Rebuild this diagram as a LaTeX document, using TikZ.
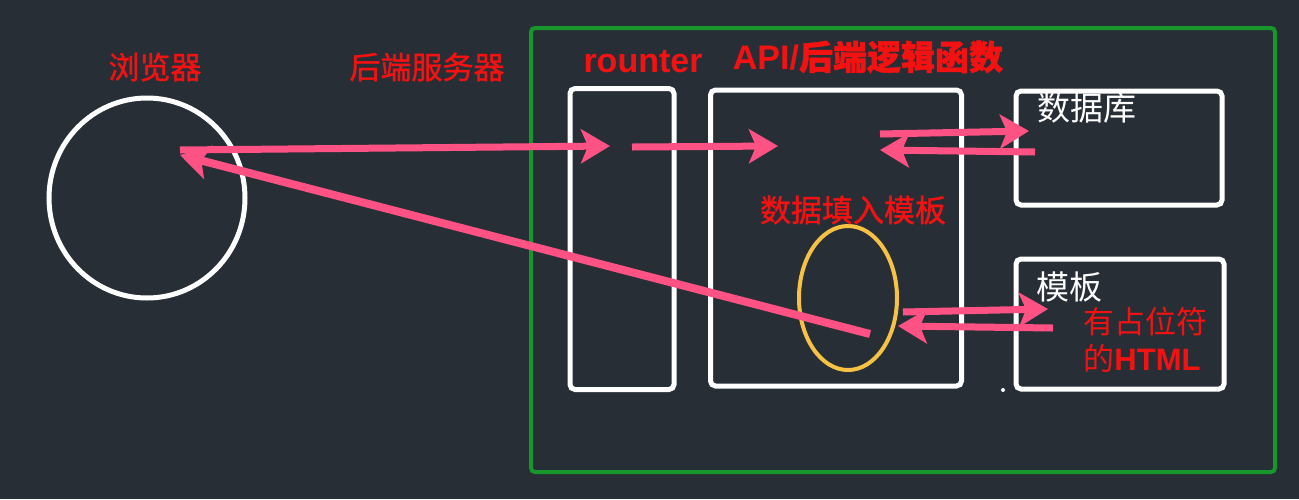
\documentclass[tikz,border=0pt]{standalone}
\usepackage{fontspec}
\setmainfont{Liberation Sans}
\newfontfamily\cjk{Noto Sans CJK SC}
\newfontfamily\cjkb[FakeBold=1.2]{Noto Sans CJK SC}
\usetikzlibrary{arrows.meta,shapes.geometric}
\definecolor{bg}{RGB}{40,46,54}
\definecolor{arrowpink}{RGB}{255,82,132}
\definecolor{labelred}{RGB}{242,18,18}
\definecolor{framegreen}{RGB}{24,150,44}
\definecolor{ellyellow}{RGB}{247,194,68}
\begin{document}
\begin{tikzpicture}[x=1pt,y=-1pt,
  box/.style={draw=white, line width=5pt, rounded corners=5pt, inner sep=0pt},
  pa/.style={draw=arrowpink, line width=7pt, -{Stealth[length=29pt,width=34pt,inset=7pt]}},
  redlbl/.style={text=labelred, inner sep=0pt, font=\cjkb\fontsize{31}{33}\selectfont},
  whitelbl/.style={text=white, inner sep=0pt, font=\cjk\fontsize{33}{35}\selectfont}]
\fill[bg] (0,0) rectangle (1299,499);
\useasboundingbox (0,0) rectangle (1299,499);

% frame
\node[draw=framegreen, line width=4pt, rounded corners=4pt, minimum width=744pt, minimum height=444pt, inner sep=0pt] (server) at (903,250) {};

% browser circle
\node[ellipse, draw=white, line width=5pt, minimum width=196pt, minimum height=200pt, inner sep=0pt] (browser) at (147,198) {};

% boxes
\node[box, minimum width=104pt, minimum height=301pt] (router) at (622,239) {};
\node[box, minimum width=251pt, minimum height=296pt] (api) at (836,238) {};
\node[box, minimum width=206pt, minimum height=114pt] (db) at (1119,148) {};
\node[box, minimum width=208pt, minimum height=130pt] (tpl) at (1120,324) {};

% yellow ellipse
\node[ellipse, draw=ellyellow, line width=4pt, minimum width=98pt, minimum height=144pt, inner sep=0pt] (fill) at (848,298) {};

% dot
\fill[white] (1003,390) circle (2pt);

% labels
\node[redlbl] (lbrowser) at (155,67) {浏览器};
\node[redlbl] (lserver) at (427,67) {后端服务器};
\node[text=labelred, inner sep=0pt, font=\bfseries\fontsize{34}{36}\selectfont] (lrouter) at (643,62) {rounter};
\node[text=labelred, inner sep=0pt, font=\fontsize{34}{36}\selectfont] (lapi) at (868,57) {\bfseries API/{\cjkb 后端逻辑函数}};
\node[redlbl] (lfill) at (853,210) {数据填入模板};
\node[whitelbl] (ldb) at (1087,108) {数据库};
\node[whitelbl] (ltpl) at (1069,287) {模板};
\node[redlbl, font=\cjk\fontsize{31}{33}\selectfont] (lhtml1) at (1145,322) {有占位符};
\node[text=labelred, inner sep=0pt, font=\fontsize{31}{33}\selectfont] (lhtml2) at (1142,358) {{\cjk 的}\bfseries HTML};

% arrow end points
\coordinate (b1) at (180,150);
\coordinate (r1) at (610,146);
\coordinate (r2) at (632,147);
\coordinate (a1) at (778,146);
\coordinate (a2) at (880,134);
\coordinate (d1) at (1029,131);
\coordinate (d2) at (1035,152);
\coordinate (a3) at (880,150);
\coordinate (e1) at (903,312);
\coordinate (t1) at (1048,309);
\coordinate (t2) at (1053,328);
\coordinate (e2) at (898,326);
\coordinate (e3) at (870,334);
\coordinate (b2) at (180,155);

\draw[pa] (b1) -- (r1);
\draw[pa] (r2) -- (a1);
\draw[pa] (a2) -- (d1);
\draw[pa] (d2) -- (a3);
\draw[pa] (e1) -- (t1);
\draw[pa] (t2) -- (e2);
\draw[pa, line width=8pt] (e3) -- (b2);
\end{tikzpicture}
\end{document}
